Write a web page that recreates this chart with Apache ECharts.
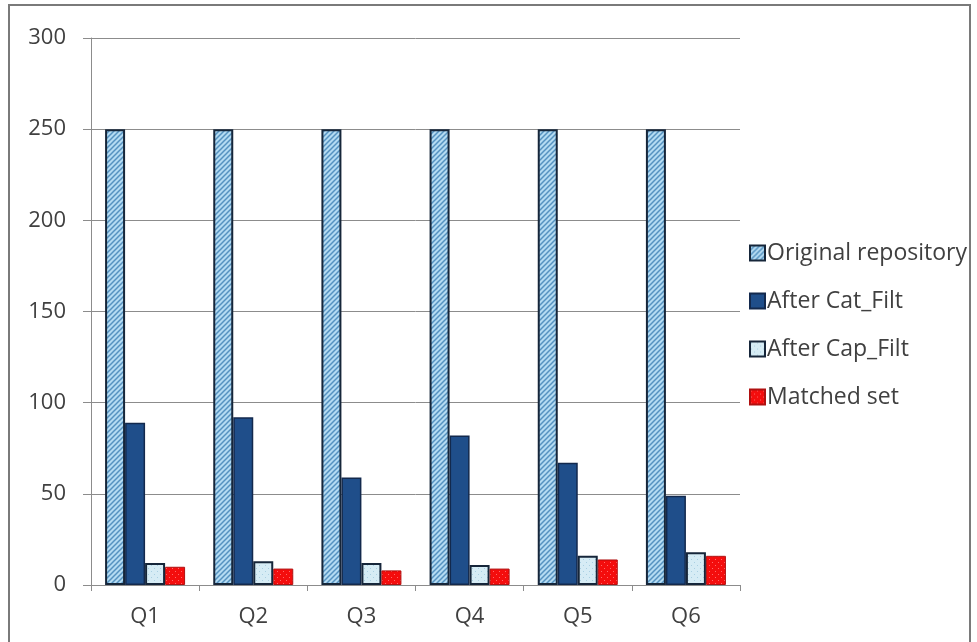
<!DOCTYPE html>
<html>
<head>
<meta charset="utf-8">
<script src="https://cdn.jsdelivr.net/npm/echarts@6/dist/echarts.min.js"></script>
<style>
  html, body { margin: 0; padding: 0; background: #fff; }
  #chart { width: 977px; height: 642px; }
</style>
</head>
<body>
<div id="chart"></div>
<script>
// Query groups and the item counts left after each filtering stage
const categories = ['Q1', 'Q2', 'Q3', 'Q4', 'Q5', 'Q6'];
const originalRepository = [250, 250, 250, 250, 250, 250];
const afterCatFilt = [89, 92, 59, 82, 67, 49];
const afterCapFilt = [12, 13, 12, 11, 16, 18];
const matchedSet = [10, 9, 8, 9, 14, 16];
const yTicks = { min: 0, max: 300, step: 50 };

// Fill patterns painted on small tiles
function diagonalTile() {
  const c = document.createElement('canvas');
  c.width = 5; c.height = 5;
  const g = c.getContext('2d');
  g.fillStyle = '#b4dbf2';
  g.fillRect(0, 0, 5, 5);
  g.strokeStyle = '#5592c0';
  g.lineWidth = 1.5;
  g.beginPath();
  g.moveTo(-1, 6); g.lineTo(6, -1);
  g.moveTo(-4, 4); g.lineTo(4, -4);
  g.moveTo(1, 9); g.lineTo(9, 1);
  g.stroke();
  return c;
}
function dottedTile(base, dot) {
  const c = document.createElement('canvas');
  c.width = 6; c.height = 6;
  const g = c.getContext('2d');
  g.fillStyle = base;
  g.fillRect(0, 0, 6, 6);
  g.fillStyle = dot;
  g.fillRect(1, 1, 1, 1);
  g.fillRect(4, 4, 1, 1);
  return c;
}

const chart = echarts.init(document.getElementById('chart'), null, { renderer: 'canvas' });

const font = '"Open Sans", "Noto Sans", sans-serif';
const textColor = '#404040';

chart.setOption({
  backgroundColor: '#ffffff',
  animation: false,
  grid: { left: 91, right: 237, top: 38, bottom: 57 },
  legend: {
    orient: 'vertical',
    left: 744,
    top: 236,
    itemWidth: 15,
    itemHeight: 15,
    itemGap: 24,
    icon: 'rect',
    textStyle: { fontFamily: font, fontSize: 23, lineHeight: 24, color: textColor, padding: [0, 0, 0, -3] },
    data: ['Original repository', 'After Cat_Filt', 'After Cap_Filt', 'Matched set']
  },
  xAxis: {
    type: 'category',
    data: categories,
    axisLine: { lineStyle: { color: '#8c8c8c', width: 1 } },
    axisTick: { show: true, length: 6, lineStyle: { color: '#8c8c8c' } },
    axisLabel: { fontFamily: font, fontSize: 22, color: textColor, margin: 21 }
  },
  yAxis: {
    type: 'value',
    min: yTicks.min,
    max: yTicks.max,
    interval: yTicks.step,
    axisLine: { show: true, lineStyle: { color: '#8c8c8c', width: 1 } },
    axisTick: { show: true, length: 8, lineStyle: { color: '#8c8c8c' } },
    axisLabel: { fontFamily: font, fontSize: 22, color: textColor, margin: 25 },
    splitLine: { lineStyle: { color: '#8c8c8c', width: 1 } }
  },
  series: [
    {
      name: 'Original repository',
      type: 'bar',
      data: originalRepository,
      barWidth: 20,
      barGap: '0%',
      itemStyle: {
        color: { image: diagonalTile(), repeat: 'repeat' },
        borderColor: '#16263a',
        borderWidth: 2
      }
    },
    {
      name: 'After Cat_Filt',
      type: 'bar',
      data: afterCatFilt,
      barWidth: 20,
      barGap: '0%',
      itemStyle: { color: '#1f4e8a', borderColor: '#13294d', borderWidth: 1.5 }
    },
    {
      name: 'After Cap_Filt',
      type: 'bar',
      data: afterCapFilt,
      barWidth: 20,
      barGap: '0%',
      itemStyle: {
        color: { image: dottedTile('#d6ecf5', '#a9cfe2'), repeat: 'repeat' },
        borderColor: '#16263a',
        borderWidth: 2
      }
    },
    {
      name: 'Matched set',
      type: 'bar',
      data: matchedSet,
      barWidth: 20,
      barGap: '0%',
      itemStyle: {
        color: { image: dottedTile('#f40d0d', '#ff6a6a'), repeat: 'repeat' },
        borderColor: '#b01010',
        borderWidth: 1
      }
    }
  ],
  graphic: [
    {
      type: 'polyline',
      silent: true,
      shape: { points: [[9, 642], [9, 5], [970, 5], [970, 642]] },
      style: { stroke: '#7a7a7a', lineWidth: 2, fill: null }
    }
  ]
});
</script>
</body>
</html>
